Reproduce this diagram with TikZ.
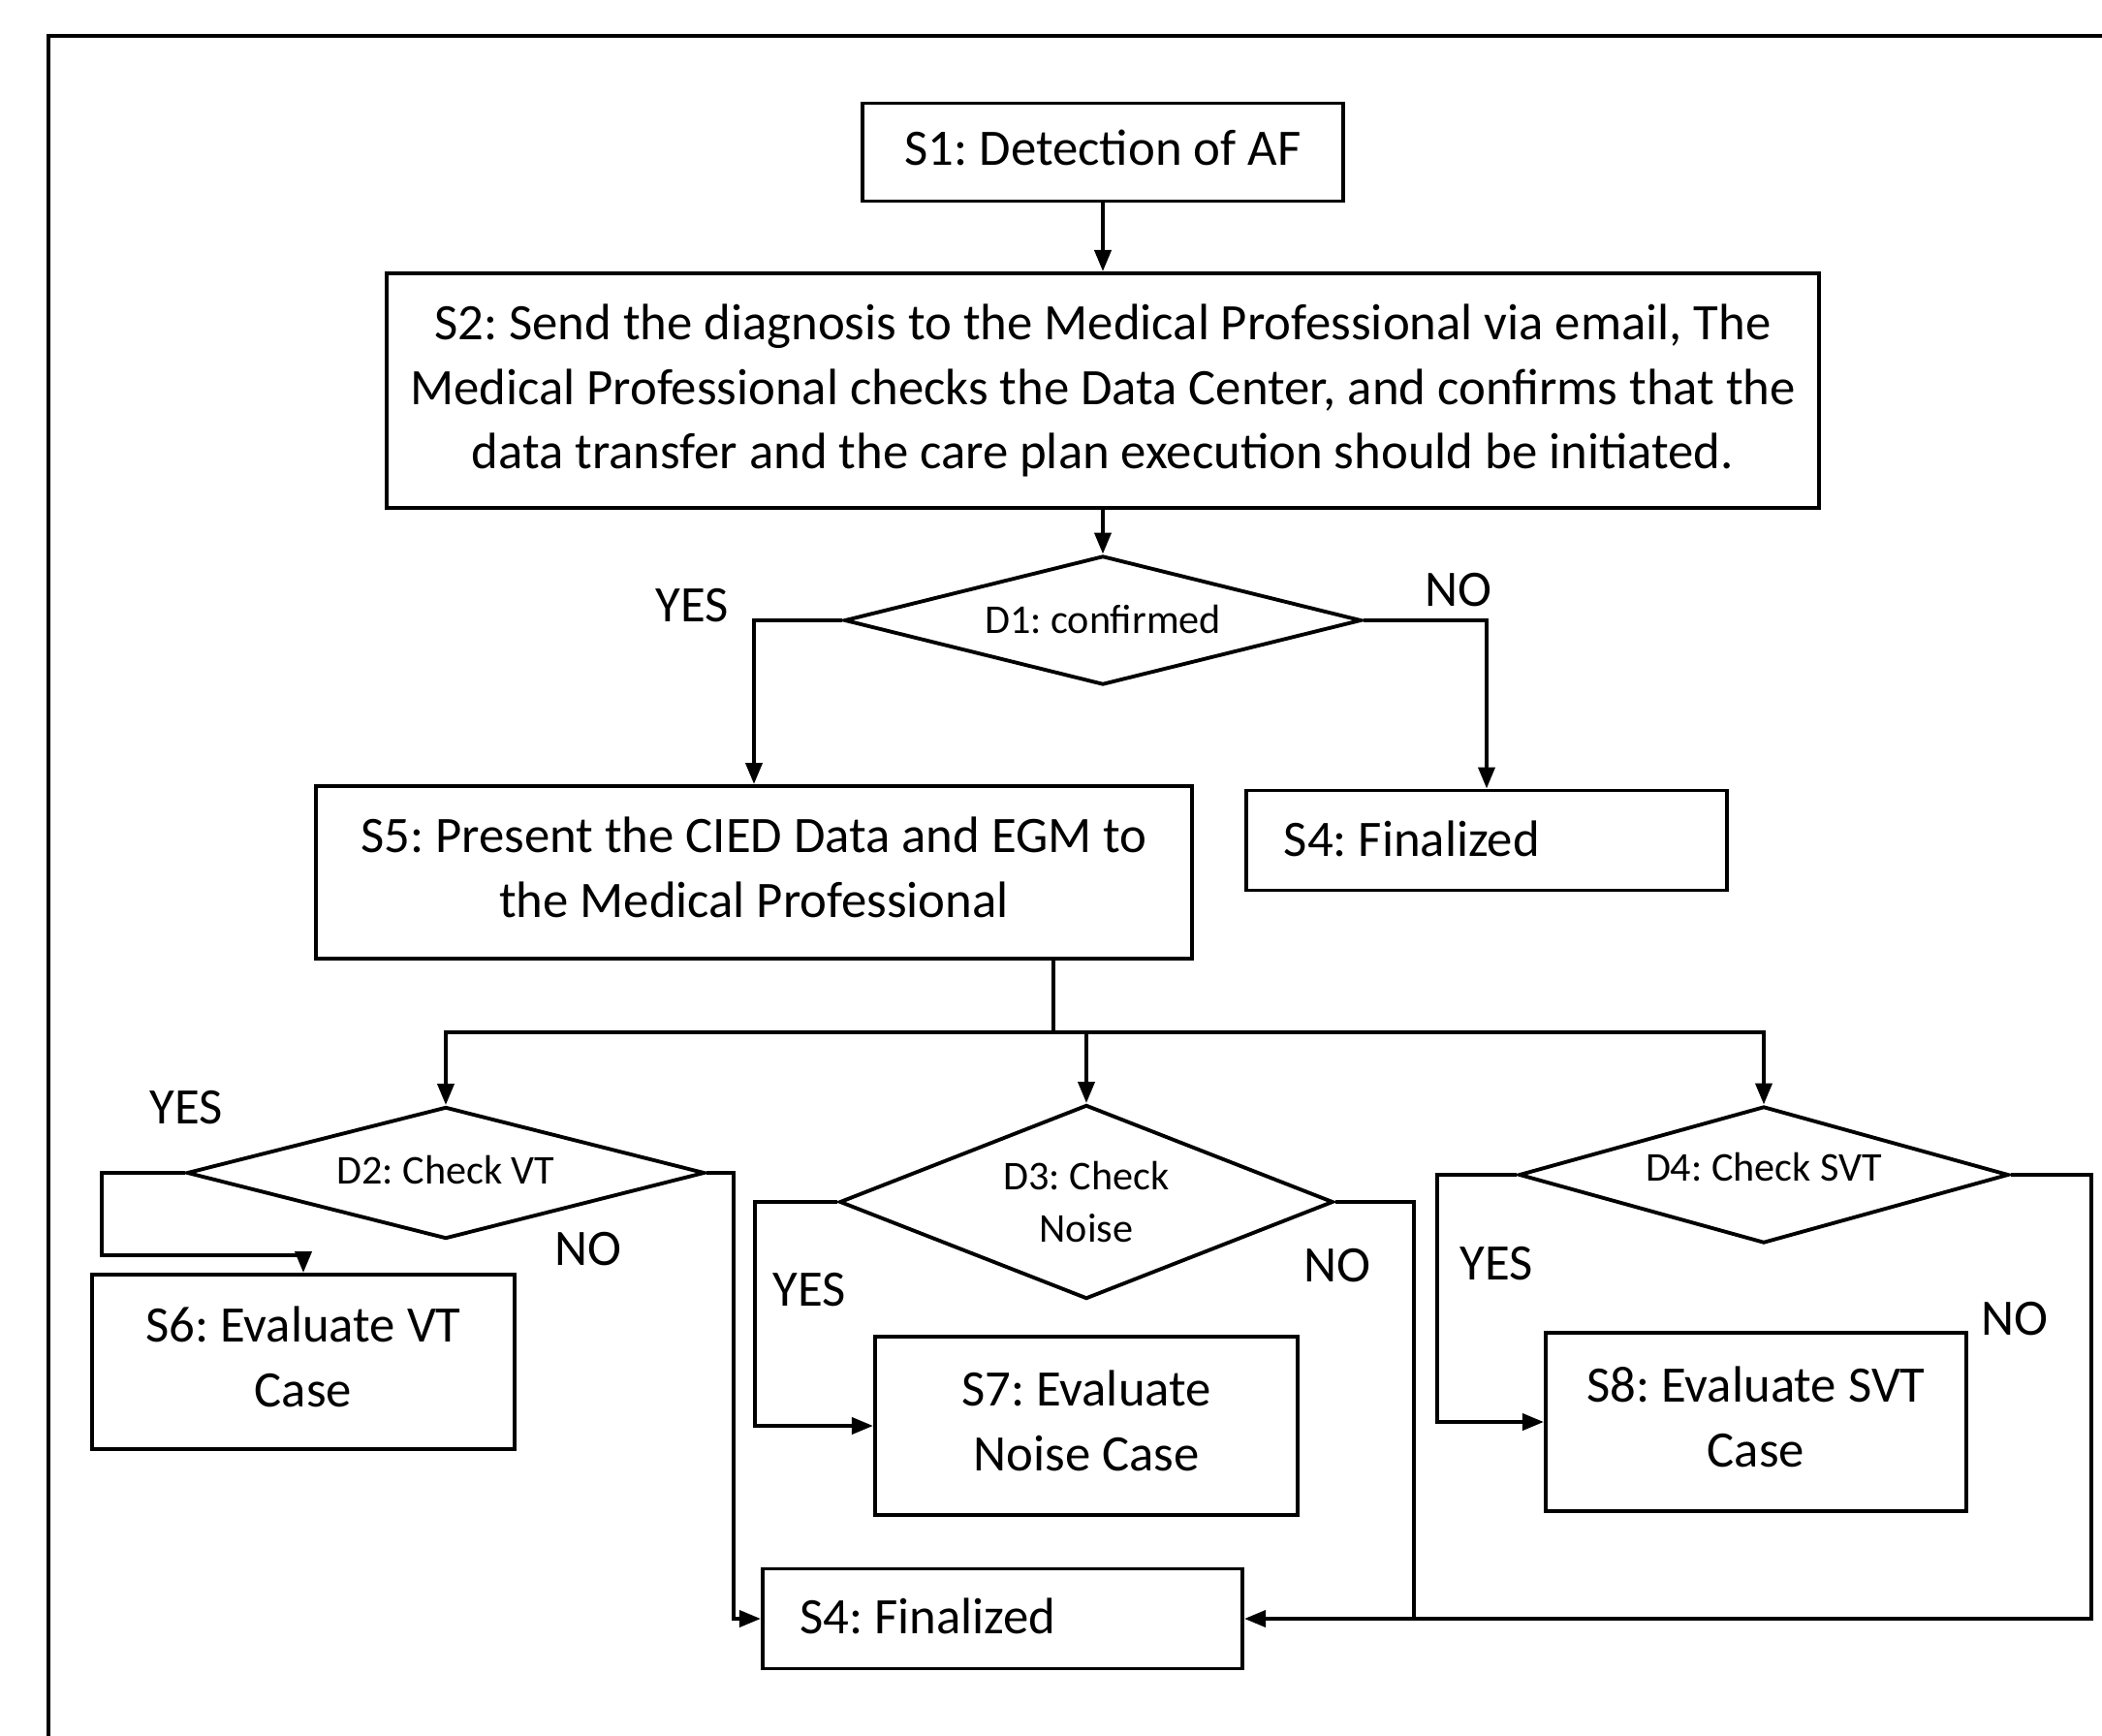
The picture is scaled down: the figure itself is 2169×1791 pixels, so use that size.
\documentclass[tikz,border=0pt]{standalone}
\usepackage{fontspec}
\setmainfont{Carlito}
\usetikzlibrary{shapes.geometric,arrows.meta}
\newcommand{\boxtext}[1]{\raisebox{0.06cm}{\begin{tabular}{@{}c@{}}#1\end{tabular}}}
\newcommand{\fintext}[2]{\makebox[4.18cm][l]{\raisebox{#1}{#2}}}
\begin{document}
\frenchspacing
\begin{tikzpicture}[x=0.01cm,y=-0.01cm,
 box/.style={draw,line width=1.1pt,inner sep=0pt,align=center,font=\fontsize{15}{19}\selectfont\frenchspacing},
 fin/.style={box,inner xsep=0.385cm,minimum height=1.03cm},
 dec/.style={draw,diamond,line width=1.1pt,inner sep=0pt,align=center,font=\fontsize{12}{15.4}\selectfont\frenchspacing},
 lab/.style={font=\fontsize{15}{17}\selectfont,inner sep=0pt},
 arr/.style={line width=1.1pt,-{Triangle[length=0.22cm,width=0.17cm]}},
 ln/.style={line width=1.1pt}]
\useasboundingbox (0,0) rectangle (2169,1791);
\draw[line width=1.1pt] (50,1800) -- (50,37) -- (2180,37);

\node[box,minimum width=4.95cm,minimum height=1.01cm] (S1) at (1138,157) {\boxtext{S1: Detection of AF}};
\node[box,minimum width=14.77cm,minimum height=2.42cm] (S2) at (1138,403) {S2: Send the diagnosis to the Medical Professional via email, The\\Medical Professional checks the Data Center, and confirms that the\\data transfer and the care plan execution should be initiated.};
\node[dec,shape aspect=4,minimum width=5.33cm,minimum height=1.33cm] (D1) at (1138,640) {\raisebox{0.03cm}{D1: confirmed}};
\node[box,minimum width=9.03cm,minimum height=1.78cm] (S5) at (778,900) {\boxtext{S5: Present the CIED Data and EGM to\\the Medical Professional}};
\node[fin] (S4a) at (1534,867) {\fintext{0.04cm}{S4: Finalized}};

\node[dec,shape aspect=3.9,minimum width=5.34cm,minimum height=1.36cm] (D2) at (460,1210) {\raisebox{0.06cm}{D2: Check VT}};
\node[box,minimum width=4.36cm,minimum height=1.80cm] (S6) at (313,1405) {\boxtext{S6: Evaluate VT\\Case}};
\node[dec,shape aspect=2.55,minimum width=5.09cm,minimum height=2.0cm] (D3) at (1121,1240) {D3: Check\\Noise};
\node[box,minimum width=4.36cm,minimum height=1.84cm] (S7) at (1121,1471) {\boxtext{S7: Evaluate\\Noise Case}};
\node[dec,shape aspect=3.6,minimum width=5.05cm,minimum height=1.41cm] (D4) at (1820,1212) {\raisebox{0.16cm}{D4: Check SVT}};
\node[box,minimum width=4.34cm,minimum height=1.84cm] (S8) at (1812,1467) {\boxtext{S8: Evaluate SVT\\Case}};
\node[fin] (S4b) at (1034.5,1670) {\fintext{0.05cm}{S4: Finalized}};

\node[lab] (y1) at (714,625) {YES};
\node[lab] (n1) at (1505,609) {NO};
\node[lab] (y2) at (192,1143) {YES};
\node[lab] (n2) at (607,1289) {NO};
\node[lab] (y3) at (835,1331) {YES};
\node[lab] (n3) at (1380,1306) {NO};
\node[lab] (y4) at (1544,1304) {YES};
\node[lab] (n4) at (2079,1361) {NO};

\draw[arr] (S1.south) -- (S2.north);
\draw[arr] (S2.south) -- (D1.north);
\draw[arr] (D1.west) -| (S5.north);
\draw[arr] (D1.east) -| (S4a.north);
\coordinate (J) at (1087,1065);
\draw[ln] (S5.south -| J) -- (J);
\draw[arr] (J) -| (D2.north);
\draw[arr] (J) -| (D3.north);
\draw[arr] (J) -| (D4.north);
\draw[arr] (D2.west) -| (105,1295) -| (S6.north);
\draw[arr] (D2.east) -| (757,1670) -- (S4b.west);
\draw[arr] (D3.west) -| (779,1471) -- (S7.west);
\draw[ln] (D3.east) -| (1459,1670);
\draw[arr] (D4.west) -| (1483,1467) -- (S8.west);
\draw[arr] (D4.east) -| (2158,1670) -- (S4b.east);
\end{tikzpicture}
\end{document}
